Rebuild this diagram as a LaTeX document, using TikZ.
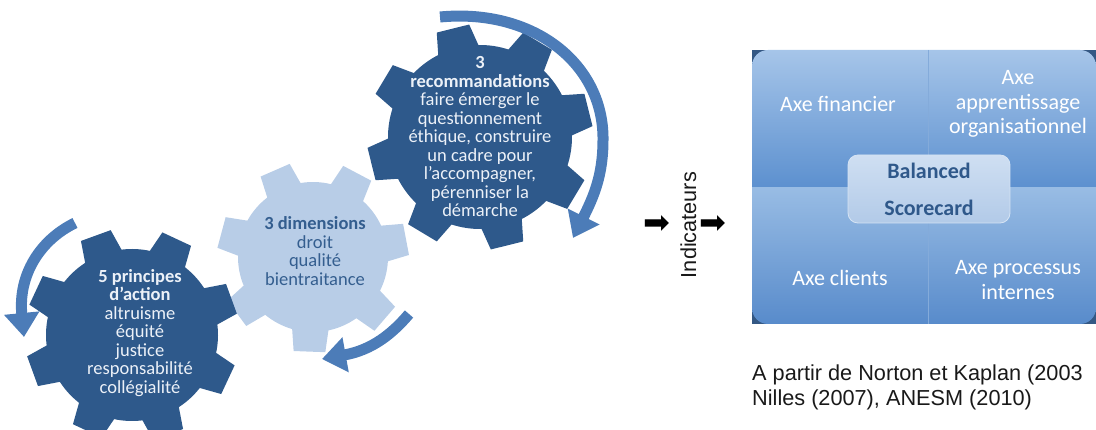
\documentclass[tikz,border=0pt]{standalone}
\usepackage{fontspec}
\setmainfont{Carlito}
\newfontfamily\arialf{Liberation Sans}
\newfontfamily\djvf{DejaVu Sans}
\usetikzlibrary{arrows.meta}
\definecolor{geardark}{RGB}{46,89,139}
\definecolor{gearlight}{RGB}{184,205,231}
\definecolor{geartextw}{RGB}{236,241,248}
\definecolor{geartextd}{RGB}{52,94,143}
\definecolor{arrowblue}{RGB}{76,124,184}
\definecolor{boxdark}{RGB}{52,88,132}
\definecolor{qtopa}{RGB}{166,197,233}
\definecolor{qbota}{RGB}{92,144,207}
\definecolor{qtopb}{RGB}{152,188,228}
\definecolor{qbotb}{RGB}{88,139,203}
\definecolor{divline}{RGB}{132,171,218}
\definecolor{cbtop}{RGB}{207,223,242}
\definecolor{cbbot}{RGB}{178,202,232}
\definecolor{cbline}{RGB}{214,228,244}
\definecolor{cbtext}{RGB}{47,88,138}
\definecolor{captext}{RGB}{25,25,25}
\newcommand{\mygear}[9]{%
  \begin{scope}[shift={(#1,#2)},yscale=-1]
    \pgfmathsetmacro\gstep{360/#3}
    \fill[#9] (#6-#7:#4)
      \foreach \k [evaluate=\k as \a using #6+(\k-1)*\gstep] in {1,...,#3}{
        -- (\a-#7:#4) -- (\a-#8:#5) -- (\a+#8:#5) -- (\a+#7:#4)
        arc[start angle=\a+#7, end angle=\a+\gstep-#7, radius=#4]
      } -- cycle;
  \end{scope}}
\tikzset{
  darktext/.style={text=geartextw, font=\fontsize{18.5}{18.5}\selectfont, align=center, inner sep=0pt},
  lighttext/.style={text=geartextd, font=\fontsize{18.5}{18.5}\selectfont, align=center, inner sep=0pt},
  qtext/.style={text=white, font=\fontsize{22}{24.5}\selectfont, align=center, inner sep=0pt},
  bandarrow/.style={line width=11pt, draw=arrowblue, -{Triangle[width=34pt,length=24pt]}},
  arialtext/.style={text=captext, font=\arialf\fontsize{21.7}{25}\selectfont, inner sep=0pt},
  bigarrow/.style={font=\djvf\fontsize{32}{32}\selectfont, text=black, inner sep=0pt}
}
\begin{document}
\begin{tikzpicture}[x=1pt,y=-1pt]
\useasboundingbox (0,0) rectangle (1096,430);

% gears
\mygear{313}{257}{7}{75}{96}{165}{14}{9.5}{gearlight}
\mygear{132}{335}{8}{86}{107}{20}{13}{8.5}{geardark}
\mygear{480}{137}{8}{92}{113}{14}{13}{8.5}{geardark}

\node[lighttext] (t2) at (315,251) {{\bfseries 3 dimensions}\\droit\\qualité\\bientraitance};
\node[darktext] (t1) at (140,333) {{\bfseries 5 principes}\\{\bfseries d’action}\\altruisme\\équité\\justice\\responsabilité\\collégialité};
\node[darktext] (t3) at (480,137) {{\bfseries 3}\\{\bfseries recommandations}\\faire émerger le\\questionnement\\éthique, construire\\un cadre pour\\l’accompagner,\\pérenniser la\\démarche};

% curved arrows
\coordinate (aS) at (440,17);
\coordinate (aM) at (603,140);
\coordinate (aE) at (573,238);
\draw[bandarrow] (aS) .. controls (535,8) and (604,65) .. (aM) .. controls (603,175) and (594,196) .. (aE);
\coordinate (bS) at (409,314);
\coordinate (bE) at (322,359);
\draw[bandarrow] (bS) .. controls (392,334) and (372,350) .. (bE);
\coordinate (cS) at (75,223);
\coordinate (cE) at (24,337);
\draw[bandarrow] (cS) .. controls (40,240) and (18,275) .. (cE);

% indicateurs
\node[bigarrow] (arrL) at (657,225) {➡};
\node[arialtext, rotate=90, anchor=base] (ind) at (696,225) {Indicateurs};
\node[bigarrow] (arrR) at (713,225) {➡};

% balanced scorecard box
\fill[boxdark] (752,50) rectangle (1096,324);
\begin{scope}
  \clip[rounded corners=16pt] (752,50) rectangle (1096,324);
  \shade[top color=qtopa, bottom color=qbota] (752,50) rectangle (1096,188);
  \shade[top color=qtopb, bottom color=qbotb] (752,188) rectangle (1096,324);
  \draw[divline, line width=0.8pt] (928,50) -- (928,324);
\end{scope}
\node[qtext] (fin) at (838,104) {Axe financier};
\node[qtext] (app) at (1018,104) {Axe\\apprentissage\\organisationnel};
\node[qtext] (cli) at (840,278) {Axe clients};
\node[qtext] (pro) at (1018,280) {Axe processus\\internes};
\node[top color=cbtop, bottom color=cbbot, draw=cbline, line width=0.8pt, rounded corners=10pt,
      minimum width=162pt, minimum height=68pt, inner sep=0pt, align=center,
      text=cbtext, font=\bfseries\fontsize{22}{37}\selectfont] (bsc) at (929,189) {Balanced\\Scorecard};

% caption
\node[arialtext, anchor=base west] (cap1) at (752,381) {A partir de Norton et Kaplan (2003};
\node[arialtext, anchor=base west] (cap2) at (752,406) {Nilles (2007), ANESM (2010)};
\end{tikzpicture}
\end{document}
